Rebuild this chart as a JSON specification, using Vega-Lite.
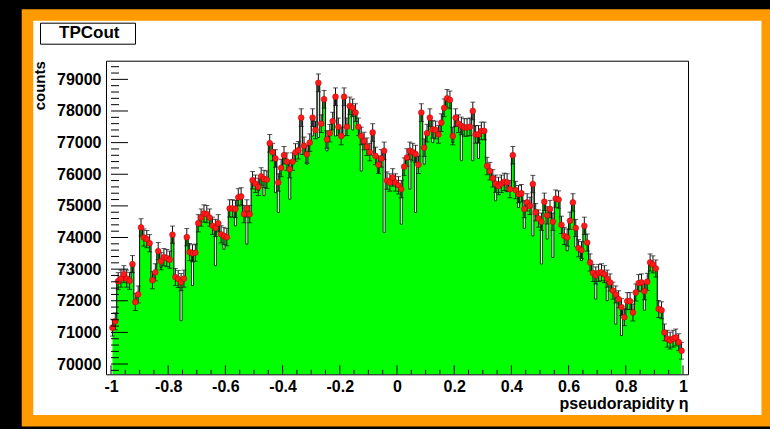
{
"$schema": "https://vega.github.io/schema/vega-lite/v6.json",
"width": 739.75,
"height": 405.75,
"autosize": {"type": "none"},
"padding": {"left": 27.5, "top": 15, "right": 2.75, "bottom": 8.25},
"background": "black",
"config": {"view": {"fill": "white", "stroke": "#ff9a00", "strokeWidth": 11.5}, "font": "Liberation Sans"},
"datasets": {
"yt": [{"t":69800,"m":0},{"t":70000,"m":1},{"t":70200,"m":0},{"t":70400,"m":0},{"t":70600,"m":0},{"t":70800,"m":0},{"t":71000,"m":1},{"t":71200,"m":0},{"t":71400,"m":0},{"t":71600,"m":0},{"t":71800,"m":0},{"t":72000,"m":1},{"t":72200,"m":0},{"t":72400,"m":0},{"t":72600,"m":0},{"t":72800,"m":0},{"t":73000,"m":1},{"t":73200,"m":0},{"t":73400,"m":0},{"t":73600,"m":0},{"t":73800,"m":0},{"t":74000,"m":1},{"t":74200,"m":0},{"t":74400,"m":0},{"t":74600,"m":0},{"t":74800,"m":0},{"t":75000,"m":1},{"t":75200,"m":0},{"t":75400,"m":0},{"t":75600,"m":0},{"t":75800,"m":0},{"t":76000,"m":1},{"t":76200,"m":0},{"t":76400,"m":0},{"t":76600,"m":0},{"t":76800,"m":0},{"t":77000,"m":1},{"t":77200,"m":0},{"t":77400,"m":0},{"t":77600,"m":0},{"t":77800,"m":0},{"t":78000,"m":1},{"t":78200,"m":0},{"t":78400,"m":0},{"t":78600,"m":0},{"t":78800,"m":0},{"t":79000,"m":1},{"t":79200,"m":0},{"t":79400,"m":0}],
"xt": [{"t":-1,"m":1},{"t":-0.95,"m":0},{"t":-0.9,"m":0},{"t":-0.85,"m":0},{"t":-0.8,"m":1},{"t":-0.75,"m":0},{"t":-0.7,"m":0},{"t":-0.65,"m":0},{"t":-0.6,"m":1},{"t":-0.55,"m":0},{"t":-0.5,"m":0},{"t":-0.45,"m":0},{"t":-0.4,"m":1},{"t":-0.35,"m":0},{"t":-0.3,"m":0},{"t":-0.25,"m":0},{"t":-0.2,"m":1},{"t":-0.15,"m":0},{"t":-0.1,"m":0},{"t":-0.05,"m":0},{"t":0,"m":1},{"t":0.05,"m":0},{"t":0.1,"m":0},{"t":0.15,"m":0},{"t":0.2,"m":1},{"t":0.25,"m":0},{"t":0.3,"m":0},{"t":0.35,"m":0},{"t":0.4,"m":1},{"t":0.45,"m":0},{"t":0.5,"m":0},{"t":0.55,"m":0},{"t":0.6,"m":1},{"t":0.65,"m":0},{"t":0.7,"m":0},{"t":0.75,"m":0},{"t":0.8,"m":1},{"t":0.85,"m":0},{"t":0.9,"m":0},{"t":0.95,"m":0},{"t":1,"m":1}]
},
"data": {"values": [
{"c":-0.995,"v":71150,"e":267},{"c":-0.985,"v":71350,"e":267},{"c":-0.975,"v":72620,"e":269},{"c":-0.965,"v":72700,"e":270},{"c":-0.955,"v":72840,"e":270},
{"c":-0.945,"v":72700,"e":270},{"c":-0.935,"v":72630,"e":269},{"c":-0.925,"v":73160,"e":270},{"c":-0.915,"v":71960,"e":268},{"c":-0.905,"v":72200,"e":269},
{"c":-0.895,"v":74320,"e":273},{"c":-0.885,"v":74000,"e":272},{"c":-0.875,"v":73950,"e":272},{"c":-0.865,"v":73820,"e":272},{"c":-0.855,"v":72650,"e":270},
{"c":-0.845,"v":72900,"e":270},{"c":-0.835,"v":73570,"e":271},{"c":-0.825,"v":73250,"d":73050,"e":271},{"c":-0.815,"v":73380,"e":271},{"c":-0.805,"v":73350,"e":271},
{"c":-0.795,"v":73300,"e":271},{"c":-0.785,"v":74090,"e":272},{"c":-0.775,"v":72750,"e":270},{"c":-0.765,"v":72690,"e":270},{"c":-0.755,"v":72590,"d":71370,"e":269},
{"c":-0.745,"v":72700,"e":270},{"c":-0.735,"v":74010,"e":272},{"c":-0.725,"v":73540,"e":271},{"c":-0.715,"v":73500,"d":72480,"e":271},{"c":-0.705,"v":73520,"e":271},
{"c":-0.695,"v":74450,"e":273},{"c":-0.685,"v":74630,"e":273},{"c":-0.675,"v":74760,"e":273},{"c":-0.665,"v":74740,"e":273},{"c":-0.655,"v":74630,"e":273},
{"c":-0.645,"v":74370,"e":273},{"c":-0.635,"v":74300,"d":73110,"e":273},{"c":-0.625,"v":74450,"e":273},{"c":-0.615,"v":74100,"e":272},{"c":-0.605,"v":74050,"d":73630,"e":272},
{"c":-0.595,"v":74010,"e":272},{"c":-0.585,"v":74920,"e":274},{"c":-0.575,"v":74920,"e":274},{"c":-0.565,"v":74900,"d":74370,"e":274},{"c":-0.555,"v":75270,"e":274},
{"c":-0.545,"v":75300,"e":274},{"c":-0.535,"v":74740,"e":273},{"c":-0.525,"v":74920,"d":73790,"e":274},{"c":-0.515,"v":74740,"e":273},{"c":-0.505,"v":75810,"e":275},
{"c":-0.495,"v":75700,"e":275},{"c":-0.485,"v":75600,"d":75470,"e":275},{"c":-0.475,"v":75930,"e":276},{"c":-0.465,"v":75850,"d":75320,"e":275},{"c":-0.455,"v":75830,"e":275},
{"c":-0.445,"v":76980,"e":277},{"c":-0.435,"v":76700,"e":277},{"c":-0.425,"v":76500,"d":75420,"e":277},{"c":-0.415,"v":75740,"d":74790,"e":275},{"c":-0.405,"v":76200,"e":276},
{"c":-0.395,"v":76600,"e":277},{"c":-0.385,"v":76400,"e":276},{"c":-0.375,"v":76160,"d":75210,"e":276},{"c":-0.365,"v":76400,"e":276},{"c":-0.355,"v":76690,"e":277},
{"c":-0.345,"v":76760,"e":277},{"c":-0.335,"v":77790,"d":76630,"e":279},{"c":-0.325,"v":76900,"e":277},{"c":-0.315,"v":76630,"d":76320,"e":277},{"c":-0.305,"v":77000,"e":277},
{"c":-0.295,"v":77790,"d":77210,"e":279},{"c":-0.285,"v":77400,"e":278},{"c":-0.275,"v":78890,"d":77160,"e":281},{"c":-0.265,"v":77600,"e":279},{"c":-0.255,"v":78370,"e":280},
{"c":-0.245,"v":77100,"d":76740,"e":278},{"c":-0.235,"v":77300,"e":278},{"c":-0.225,"v":77680,"e":279},{"c":-0.215,"v":78450,"d":77210,"e":280},{"c":-0.205,"v":77500,"e":278},
{"c":-0.195,"v":77210,"e":278},{"c":-0.185,"v":78450,"d":77210,"e":280},{"c":-0.175,"v":77500,"e":278},{"c":-0.165,"v":78160,"e":280},{"c":-0.155,"v":78100,"d":77400,"e":279},
{"c":-0.145,"v":77950,"e":279},{"c":-0.135,"v":77500,"e":278},{"c":-0.125,"v":77210,"d":76100,"e":278},{"c":-0.115,"v":77050,"e":278},{"c":-0.105,"v":76870,"e":277},
{"c":-0.095,"v":76700,"e":277},{"c":-0.085,"v":77320,"d":76600,"e":278},{"c":-0.075,"v":76580,"e":277},{"c":-0.065,"v":76300,"d":76050,"e":276},{"c":-0.055,"v":76500,"e":277},
{"c":-0.045,"v":76740,"d":74160,"e":277},{"c":-0.035,"v":75800,"e":275},{"c":-0.025,"v":75740,"e":275},{"c":-0.015,"v":75900,"e":276},{"c":-0.005,"v":75740,"e":275},
{"c":0.005,"v":75650,"e":275},{"c":0.015,"v":75530,"d":74420,"e":275},{"c":0.025,"v":76240,"e":276},{"c":0.035,"v":76530,"e":277},{"c":0.045,"v":76740,"d":75530,"e":277},
{"c":0.055,"v":76700,"e":277},{"c":0.065,"v":76640,"d":74790,"e":277},{"c":0.075,"v":76300,"e":276},{"c":0.085,"v":77950,"e":279},{"c":0.095,"v":76840,"d":76320,"e":277},
{"c":0.105,"v":77300,"e":278},{"c":0.115,"v":77790,"e":279},{"c":0.125,"v":77420,"d":77000,"e":278},{"c":0.135,"v":77400,"e":278},{"c":0.145,"v":77260,"e":278},
{"c":0.155,"v":77630,"e":279},{"c":0.165,"v":78100,"e":279},{"c":0.175,"v":78400,"e":280},{"c":0.185,"v":78350,"e":280},{"c":0.195,"v":77210,"d":77000,"e":278},
{"c":0.205,"v":77790,"e":279},{"c":0.215,"v":77600,"e":279},{"c":0.225,"v":77530,"d":76430,"e":278},{"c":0.235,"v":77480,"e":278},{"c":0.245,"v":77480,"e":278},
{"c":0.255,"v":77500,"e":278},{"c":0.265,"v":78000,"d":76430,"e":279},{"c":0.275,"v":77260,"e":278},{"c":0.285,"v":77260,"d":76500,"e":278},{"c":0.295,"v":77370,"e":278},
{"c":0.305,"v":77370,"e":278},{"c":0.315,"v":76260,"e":276},{"c":0.325,"v":76100,"e":276},{"c":0.335,"v":75870,"e":275},{"c":0.345,"v":75700,"d":75160,"e":275},
{"c":0.355,"v":75630,"e":275},{"c":0.365,"v":75700,"e":275},{"c":0.375,"v":75760,"e":275},{"c":0.385,"v":75740,"d":75450,"e":275},{"c":0.395,"v":75530,"e":275},
{"c":0.405,"v":76600,"e":277},{"c":0.415,"v":75500,"e":275},{"c":0.425,"v":75370,"d":74950,"e":275},{"c":0.435,"v":75400,"e":275},{"c":0.445,"v":74900,"d":74290,"e":274},
{"c":0.455,"v":75110,"e":274},{"c":0.465,"v":75000,"e":274},{"c":0.475,"v":75690,"d":74050,"e":275},{"c":0.485,"v":74800,"e":273},{"c":0.495,"v":74600,"e":273},
{"c":0.505,"v":74500,"d":73160,"e":273},{"c":0.515,"v":75130,"e":274},{"c":0.525,"v":74700,"d":73950,"e":273},{"c":0.535,"v":74900,"e":274},{"c":0.545,"v":74500,"d":73370,"e":273},
{"c":0.555,"v":75230,"e":274},{"c":0.565,"v":75200,"e":274},{"c":0.575,"v":74400,"e":273},{"c":0.585,"v":74050,"e":272},{"c":0.595,"v":74000,"d":73580,"e":272},
{"c":0.605,"v":74530,"e":273},{"c":0.615,"v":75110,"e":274},{"c":0.625,"v":74300,"d":73700,"e":273},{"c":0.635,"v":73660,"e":271},{"c":0.645,"v":73600,"d":73270,"e":271},
{"c":0.655,"v":74370,"e":273},{"c":0.665,"v":73840,"e":272},{"c":0.675,"v":73210,"e":271},{"c":0.685,"v":72880,"e":270},{"c":0.695,"v":72800,"d":72050,"e":270},
{"c":0.705,"v":72880,"e":270},{"c":0.715,"v":72900,"e":270},{"c":0.725,"v":72840,"e":270},{"c":0.735,"v":72700,"d":72000,"e":270},{"c":0.745,"v":72580,"e":269},
{"c":0.755,"v":72320,"e":269},{"c":0.765,"v":72200,"d":71260,"e":269},{"c":0.775,"v":72050,"e":268},{"c":0.785,"v":71800,"d":70900,"e":268},{"c":0.795,"v":71480,"e":267},
{"c":0.805,"v":71990,"e":268},{"c":0.815,"v":71990,"e":268},{"c":0.825,"v":71630,"e":268},{"c":0.835,"v":72260,"e":269},{"c":0.845,"v":72560,"e":269},
{"c":0.855,"v":72580,"e":269},{"c":0.865,"v":72300,"d":71700,"e":269},{"c":0.875,"v":72600,"e":269},{"c":0.885,"v":73210,"e":271},{"c":0.895,"v":73150,"e":270},
{"c":0.905,"v":73020,"e":270},{"c":0.915,"v":71740,"e":268},{"c":0.925,"v":71700,"e":268},{"c":0.935,"v":71000,"e":266},{"c":0.945,"v":70800,"e":266},
{"c":0.955,"v":70740,"e":266},{"c":0.965,"v":70800,"e":266},{"c":0.975,"v":70840,"e":266},{"c":0.985,"v":70690,"e":266},{"c":0.995,"v":70420,"e":265}
]},
"layer": [
{
"mark": {"type": "area", "interpolate": "step", "opacity": 1},
"encoding": {
"x": {"field": "c", "type": "quantitative",
"scale": {"domain": [-1, 1], "range": [78.5, 660.5], "nice": false, "zero": false},
"axis": {"orient": "bottom", "offset": -46.45, "grid": false, "zindex": 1, "ticks": false,
"values": [-1,-0.8,-0.6,-0.4,-0.2,0,0.2,0.4,0.6,0.8,1],
"domainColor": "black", "domainWidth": 1,
"labelExpr": "'' + round(datum.value*10)/10",
"labelFont": "Liberation Sans", "labelFontWeight": "bold", "labelFontSize": 16, "labelColor": "black",
"labelPadding": 4, "labelOverlap": false, "labelFlush": false, "labelBound": false,
"title": "pseudorapidity η", "titleFont": "Liberation Sans", "titleFontWeight": "bold", "titleFontSize": 16, "titleColor": "black",
"titleAnchor": "end", "titlePadding": 1}},
"y": {"field": "v", "type": "quantitative",
"scale": {"domain": [69675, 79590], "range": [359.3, 45.7], "nice": false, "zero": false},
"axis": {"orient": "left", "offset": -78.5, "grid": false, "zindex": 1, "ticks": false,
"values": [70000,71000,72000,73000,74000,75000,76000,77000,78000,79000],
"domainColor": "black", "domainWidth": 1,
"labelExpr": "'' + datum.value",
"labelFont": "Liberation Sans", "labelFontWeight": "bold", "labelFontSize": 16, "labelColor": "black",
"labelPadding": 5, "labelOverlap": false, "labelFlush": false, "labelBound": false,
"title": "counts", "titleFont": "Liberation Sans", "titleFontWeight": "bold", "titleFontSize": 15, "titleColor": "black",
"titleAnchor": "end", "titlePadding": 9}},
"y2": {"datum": 69675},
"color": {"datum": "TPCout", "scale": {"range": ["#00ff00"]},
"legend": {"orient": "none", "legendX": 12.5, "legendY": 7.7, "title": " ", "titleOrient": "right", "titlePadding": 14, "titleFontSize": 16,
"padding": 2, "strokeColor": "black", "fillColor": "white", "symbolOpacity": 0, "symbolSize": 0, "symbolStrokeWidth": 0,
"labelOffset": 0, "labelFont": "Liberation Sans", "labelFontWeight": "bold", "labelFontSize": 17, "labelColor": "black"}}
}
},
{
"mark": {"type": "line", "interpolate": "step", "color": "black", "strokeWidth": 1},
"encoding": {
"x": {"field": "c", "type": "quantitative", "axis": {"orient": "top", "offset": -45.7, "ticks": false, "labels": false, "title": null, "grid": false, "domainColor": "black", "domainWidth": 1, "zindex": 1}},
"y": {"field": "v", "type": "quantitative", "axis": {"orient": "right", "offset": -79.25, "ticks": false, "labels": false, "title": null, "grid": false, "domainColor": "black", "domainWidth": 1, "zindex": 1}}
}
},
{
"transform": [{"filter": "isValid(datum.d)"}],
"mark": {"type": "bar", "width": 2, "fill": "white", "stroke": "black", "strokeWidth": 0.8},
"encoding": {
"x": {"field": "c", "type": "quantitative", "axis": null},
"y": {"field": "d", "type": "quantitative", "axis": null},
"y2": {"field": "v"}
}
},
{
"mark": {"type": "errorbar", "ticks": {"size": 5}, "color": "#111111"},
"encoding": {
"x": {"field": "c", "type": "quantitative", "axis": null},
"y": {"field": "v", "type": "quantitative", "axis": null},
"yError": {"field": "e"}
}
},
{
"mark": {"type": "circle", "size": 34, "color": "#ff1a1a", "opacity": 1, "stroke": "#b00000", "strokeWidth": 0.5},
"encoding": {
"x": {"field": "c", "type": "quantitative", "axis": null},
"y": {"field": "v", "type": "quantitative", "axis": null}
}
},
{
"data": {"name": "yt"},
"transform": [{"filter": "datum.m == 1"}],
"mark": {"type": "tick", "orient": "horizontal", "size": 17, "thickness": 1, "color": "black", "opacity": 1, "xOffset": 8.5},
"encoding": {
"x": {"datum": -1, "type": "quantitative", "axis": null},
"y": {"field": "t", "type": "quantitative", "axis": null}
}
},
{
"data": {"name": "yt"},
"transform": [{"filter": "datum.m == 0"}],
"mark": {"type": "tick", "orient": "horizontal", "size": 8, "thickness": 1, "color": "black", "opacity": 1, "xOffset": 4},
"encoding": {
"x": {"datum": -1, "type": "quantitative", "axis": null},
"y": {"field": "t", "type": "quantitative", "axis": null}
}
},
{
"data": {"name": "xt"},
"transform": [{"filter": "datum.m == 1"}],
"mark": {"type": "tick", "orient": "vertical", "size": 9, "thickness": 1, "color": "black", "opacity": 1, "yOffset": -4.5},
"encoding": {
"x": {"field": "t", "type": "quantitative", "axis": null},
"y": {"datum": 69675, "type": "quantitative", "axis": null}
}
},
{
"data": {"name": "xt"},
"transform": [{"filter": "datum.m == 0"}],
"mark": {"type": "tick", "orient": "vertical", "size": 4.5, "thickness": 1, "color": "black", "opacity": 1, "yOffset": -2.25},
"encoding": {
"x": {"field": "t", "type": "quantitative", "axis": null},
"y": {"datum": 69675, "type": "quantitative", "axis": null}
}
}
],
"resolve": {"axis": {"x": "independent", "y": "independent"}}
}
